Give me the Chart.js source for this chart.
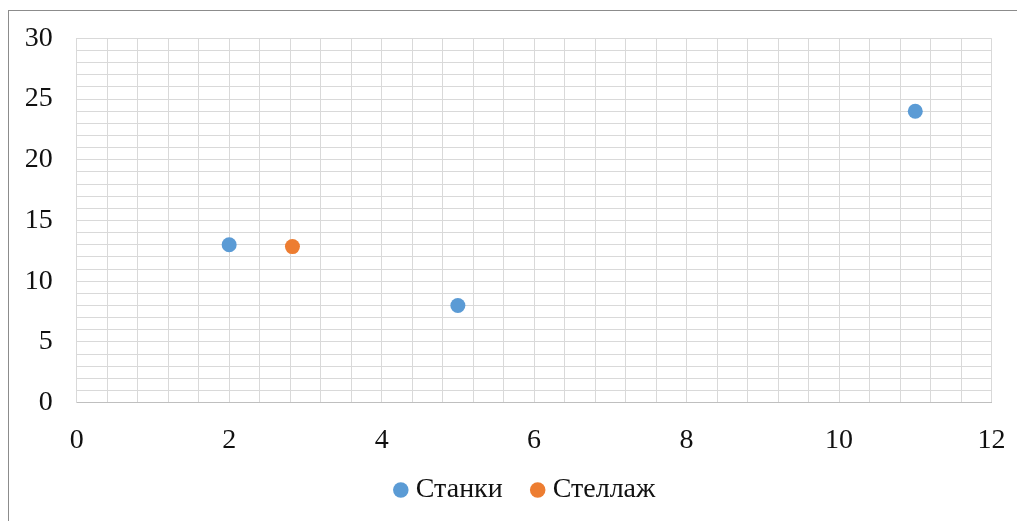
<!DOCTYPE html>
<html>
<head>
<meta charset="utf-8">
<script src="https://cdn.jsdelivr.net/npm/chart.js@4/dist/chart.umd.min.js"></script>
<style>
  html, body { margin: 0; padding: 0; background: #fff; overflow: hidden; }
  #wrap { position: relative; width: 1017px; height: 521px; }
  #frame { position: absolute; left: 8px; top: 10px; width: 1100px; height: 600px; border-left: 1px solid #8c8c8c; border-top: 1px solid #8c8c8c; box-sizing: border-box; }
  canvas { position: absolute; left: 0; top: 0; }
</style>
</head>
<body>
<div id="wrap">
  <div id="frame"></div>
  <canvas id="c" width="1017" height="521"></canvas>
</div>
<script>
const seriesNames = ['Станки', 'Стеллаж'];
const stankiX = [2, 5, 11];
const stankiY = [13, 8, 24];
const stellazhX = [2.83];
const stellazhY = [12.85];
const seriesColors = ['#5B9BD5', '#ED7D31'];

const toPoints = (xs, ys) => xs.map((x, i) => ({x: x, y: ys[i]}));
const font = {family: '"Liberation Serif", "Times New Roman", serif', size: 28};

const legendShift = {
  id: 'legendShift',
  afterLayout(chart) {
    const lg = chart.legend;
    if (lg) {
      lg.left -= 6.5; lg.right -= 6.5;
      lg.top -= 25; lg.bottom -= 25;
    }
  }
};

new Chart(document.getElementById('c'), {
  type: 'scatter',
  data: {
    datasets: [
      {label: seriesNames[0], data: toPoints(stankiX, stankiY), backgroundColor: seriesColors[0], borderWidth: 0, pointRadius: 7.5, pointHoverRadius: 7.5},
      {label: seriesNames[1], data: toPoints(stellazhX, stellazhY), backgroundColor: seriesColors[1], borderWidth: 0, pointRadius: 7.5, pointHoverRadius: 7.5}
    ]
  },
  plugins: [legendShift],
  options: {
    responsive: false,
    animation: false,
    layout: {padding: {left: 0, top: 38.3, right: 25.5, bottom: -18}},
    plugins: {
      tooltip: {enabled: false},
      legend: {
        position: 'bottom',
        fullSize: false,
        labels: {
          usePointStyle: true,
          pointStyle: 'circle',
          boxWidth: 2,
          boxHeight: 11,
          padding: 34,
          color: '#111111',
          font: font
        }
      }
    },
    scales: {
      x: {
        type: 'linear',
        min: 0, max: 12,
        afterFit: s => { s.height = 64.3; s.paddingLeft = 0; s.paddingRight = 0; },
        grid: {color: '#d9d9d9', lineWidth: 1, drawTicks: false},
        border: {color: '#bfbfbf', width: 1},
        ticks: {
          stepSize: 0.4, autoSkip: false, maxRotation: 0, padding: 21,
          color: '#111111', font: font,
          callback: v => (Math.abs(v / 2 - Math.round(v / 2)) < 1e-6 ? String(Math.round(v)) : '')
        }
      },
      y: {
        type: 'linear',
        min: 0, max: 30,
        afterFit: s => { s.width = 76.7; s.paddingTop = 0; s.paddingBottom = 0; },
        grid: {color: '#d9d9d9', lineWidth: 1, drawTicks: false},
        border: {color: '#d9d9d9', width: 1},
        ticks: {
          stepSize: 1, autoSkip: false, padding: 24,
          color: '#111111', font: font,
          callback: v => (v % 5 === 0 ? String(v) : '')
        }
      }
    }
  }
});
</script>
</body>
</html>
